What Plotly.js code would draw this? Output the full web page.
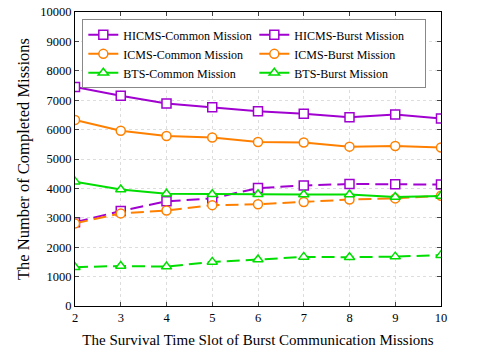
<!DOCTYPE html>
<html>
<head>
<meta charset="utf-8">
<script src="https://cdn.plot.ly/plotly-3.0.1.min.js"></script>
<style>
  html, body { margin: 0; padding: 0; background: #fff; }
  #graph { width: 486px; height: 354px; }
</style>
</head>
<body>
<div id="graph"></div>
<script>
const slots = [2, 3, 4, 5, 6, 7, 8, 9, 10];

const hicmsCommon = [7450, 7150, 6890, 6760, 6620, 6540, 6420, 6510, 6380];
const hicmsBurst  = [2850, 3230, 3560, 3660, 4010, 4100, 4150, 4140, 4130];
const icmsCommon  = [6330, 5960, 5780, 5730, 5580, 5560, 5420, 5440, 5390];
const icmsBurst   = [2810, 3150, 3250, 3430, 3460, 3540, 3620, 3660, 3750];
const btsCommon   = [4230, 3960, 3820, 3800, 3800, 3790, 3790, 3710, 3740];
const btsBurst    = [1320, 1360, 1340, 1500, 1580, 1670, 1660, 1680, 1730];

const purple = '#a000d0';
const orange = '#ff8000';
const green = '#00dd00';

function series(name, y, color, symbol, dashed) {
    return {
        x: slots, y: y, name: name, type: 'scatter', mode: 'lines+markers',
        line: { color: color, width: 2, dash: dashed ? '13px,6px' : 'solid' },
        marker: { symbol: symbol, size: 9, color: '#fff', line: { color: color, width: 1.5 } }
    };
}

const data = [
    series('HICMS-Common Mission', hicmsCommon, purple, 'square', false),
    series('HICMS-Burst Mission', hicmsBurst, purple, 'square', true),
    series('ICMS-Common Mission', icmsCommon, orange, 'circle', false),
    series('ICMS-Burst Mission', icmsBurst, orange, 'circle', true),
    series('BTS-Common Mission', btsCommon, green, 'triangle-up', false),
    series('BTS-Burst Mission', btsBurst, green, 'triangle-up', true)
];

const fontFam = '"Liberation Serif", "Times New Roman", serif';

const layout = {
    width: 486, height: 354,
    margin: { l: 75, r: 45, t: 12, b: 48 },
    paper_bgcolor: '#fff', plot_bgcolor: '#fff',
    font: { family: fontFam, size: 12, color: '#000' },
    showlegend: true,
    legend: {
        orientation: 'h', x: 0.02, y: 0.975, xanchor: 'left', yanchor: 'top',
        entrywidth: 126, entrywidthmode: 'pixels',
        bgcolor: '#fff', bordercolor: '#888', borderwidth: 1,
        font: { family: fontFam, size: 12 }, itemwidth: 30
    },
    xaxis: {
        range: [2, 10], tickvals: slots, ticks: 'inside', ticklen: 4,
        showline: true, linecolor: '#000', linewidth: 1, mirror: 'ticks',
        showgrid: true, gridcolor: '#ddd', griddash: 'dot', zeroline: false,
        tickfont: { size: 12.5 },
        title: { text: 'The Survival Time Slot of Burst Communication Missions', font: { size: 15 }, standoff: 10 }
    },
    yaxis: {
        range: [0, 10000], dtick: 1000, tickformat: 'd', ticks: 'inside', ticklen: 4,
        showline: true, linecolor: '#000', linewidth: 1, mirror: 'ticks',
        showgrid: true, gridcolor: '#ddd', griddash: 'dot', zeroline: false,
        tickfont: { size: 12.5 },
        title: { text: 'The Number of Completed Missions', font: { size: 16.5 }, standoff: 6 }
    }
};

Plotly.newPlot('graph', data, layout, { displayModeBar: false });
</script>
</body>
</html>
